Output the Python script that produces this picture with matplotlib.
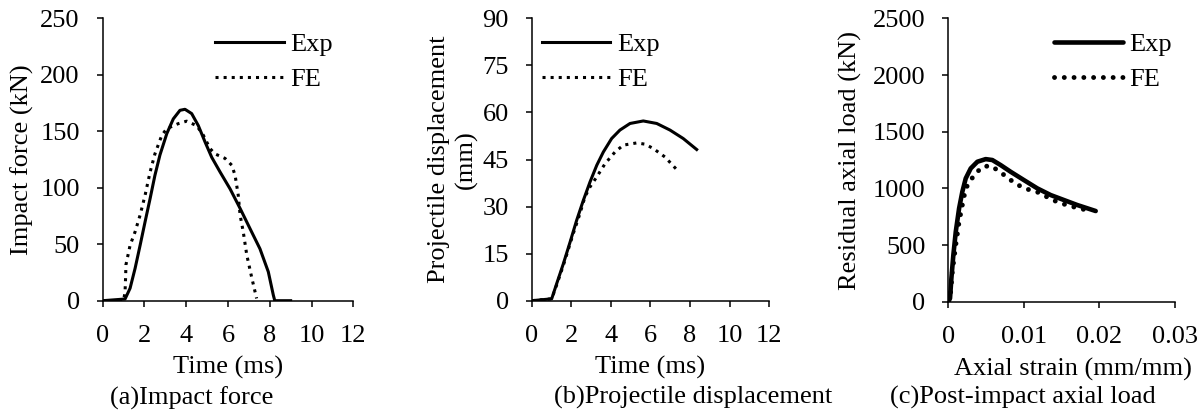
import matplotlib
matplotlib.use('Agg')
import matplotlib.pyplot as plt

plt.rcParams['font.family'] = ['Liberation Serif', 'DejaVu Serif']
plt.rcParams['font.size'] = 19

# (a) impact force
t_exp_a = [0, 1.07, 1.31, 1.55, 1.79, 2.03, 2.27, 2.5, 2.74, 3.07, 3.38, 3.70, 3.94, 4.26,
           4.58, 4.9, 5.22, 5.62, 6.1, 6.58, 7.05, 7.53, 7.93, 8.17, 8.24, 9.0]
f_exp_a = [0, 1.5, 11, 28.6, 49, 70, 90.5, 111, 129, 148, 161, 168.6, 169.5, 165.7,
           155, 140.6, 127, 114, 99, 81.7, 64, 46, 25.6, 5, 0, 0]
t_fe_a = [0, 1.0, 1.07, 1.1, 1.11, 1.31, 1.55, 1.79, 2.03, 2.27, 2.5, 2.83, 3.07, 3.62,
          4.02, 4.5, 4.82, 5.14, 5.38, 5.86, 6.18, 6.34, 6.49, 6.58, 6.73, 6.9, 7.13, 7.37]
f_fe_a = [0, 0, 8, 22.7, 31.6, 49, 61, 75.8, 93.5, 114, 130, 146.5, 152.4, 156.8,
          159, 155, 146.5, 134.7, 130, 126, 120, 111, 93.5, 75.8, 61, 40.4, 21, 2]

# (b) projectile displacement
t_exp_b = [0, 1.01, 1.26, 1.6, 1.94, 2.27, 2.61, 2.95, 3.29, 3.62, 4.04, 4.46, 4.97, 5.64,
           6.32, 6.99, 7.66, 8.34]
d_exp_b = [0, 0.6, 5.4, 11.8, 18.7, 25.6, 32, 37.9, 43.2, 47.4, 51.7, 54.4, 56.5, 57.3,
           56.5, 54.4, 51.7, 48.2]
t_fe_b = [0, 1.01, 1.26, 1.6, 2.1, 2.44, 2.69, 2.95, 3.29, 3.71, 4.21, 4.63, 5.31, 5.73,
          6.15, 6.74, 7.33]
d_fe_b = [0, 0.6, 5.0, 11.3, 21.4, 27.8, 33.1, 36.3, 39.5, 43.7, 47.4, 49.6, 50.3, 49.9,
          48.5, 45.8, 41.8]

# (c) post-impact axial load
e_exp_c = [0, 0.00022, 0.0004, 0.00066, 0.00098, 0.00142, 0.00185, 0.0023, 0.00296, 0.00384,
           0.00494, 0.00582, 0.00693, 0.00825, 0.01, 0.01177, 0.01354, 0.0153, 0.01706, 0.0195]
p_exp_c = [0, 30, 206, 412, 617, 823, 970, 1088, 1176, 1235,
           1258, 1250, 1205, 1146, 1073, 1000, 941, 897, 853, 800]
e_fe_c = [0, 0.00031, 0.00053, 0.00098, 0.00142, 0.00185, 0.0023, 0.0034, 0.0045, 0.0056,
          0.00684, 0.00794, 0.00905, 0.01037, 0.0117, 0.013, 0.01434, 0.01566, 0.01698, 0.0182]
p_fe_c = [0, 88, 265, 500, 705, 853, 1000, 1117, 1190, 1200,
          1146, 1088, 1035, 994, 970, 926, 882, 853, 829, 810]

fig = plt.figure(figsize=(12, 4.17), dpi=100)
ax1 = fig.add_axes([0.0856, 0.2789, 0.2088, 0.677])
ax2 = fig.add_axes([0.4431, 0.2789, 0.1978, 0.677])
ax3 = fig.add_axes([0.7903, 0.2765, 0.1889, 0.6795])

leg_kw = dict(loc='upper left', frameon=False, borderpad=0, handlelength=2.6,
              handletextpad=0.25, labelspacing=0.43)

ax1.plot(t_exp_a, f_exp_a, color='black', lw=2.2, label='Exp')
ax1.plot(t_fe_a, f_fe_a, color='black', lw=2.2, ls=':', label='FE')
ax1.set_xlim(0, 12)
ax1.set_ylim(0, 250)
ax1.set_xticks(range(0, 13, 2))
ax1.set_yticks(range(0, 251, 50))
ax1.set_xlabel('Time (ms)', va='center')
ax1.set_ylabel('Impact force (kN)', va='center')
ax1.xaxis.set_label_coords(0.5, -0.238)
ax1.yaxis.set_label_coords(-0.322, 0.5)
ax1.legend(bbox_to_anchor=(0.396, 0.996), **leg_kw)

ax2.plot(t_exp_b, d_exp_b, color='black', lw=2.2, label='Exp')
ax2.plot(t_fe_b, d_fe_b, color='black', lw=2.2, ls=':', label='FE')
ax2.set_xlim(0, 12)
ax2.set_ylim(0, 90)
ax2.set_xticks(range(0, 13, 2))
ax2.set_yticks(range(0, 91, 15))
ax2.set_xlabel('Time (ms)', va='center')
ax2.set_ylabel('Projectile displacement\n(mm)', va='center', linespacing=1.25)
ax2.xaxis.set_label_coords(0.5, -0.238)
ax2.yaxis.set_label_coords(-0.332, 0.5)
ax2.legend(bbox_to_anchor=(-0.013, 0.996), **leg_kw)

ax3.plot(e_exp_c, p_exp_c, color='black', lw=3.3, label='Exp', solid_capstyle='round')
ax3.plot(e_fe_c, p_fe_c, color='black', lw=3.5, ls=(0, (0.01, 2)),
         dash_capstyle='round', label='FE')
ax3.set_xlim(0, 0.03)
ax3.set_ylim(0, 2500)
ax3.set_xticks([0, 0.01, 0.02, 0.03])
ax3.set_xticklabels(['0', '0.01', '0.02', '0.03'])
ax3.set_yticks(range(0, 2501, 500))
ax3.set_xlabel('Axial strain (mm/mm)', va='center')
ax3.set_ylabel('Residual axial load (kN)', va='center')
ax3.xaxis.set_label_coords(0.548, -0.238)
ax3.yaxis.set_label_coords(-0.434, 0.5)
ax3.legend(bbox_to_anchor=(0.409, 0.996), **leg_kw)

for ax in (ax1, ax2, ax3):
    ax.spines['top'].set_visible(False)
    ax.spines['right'].set_visible(False)
    ax.spines['left'].set_linewidth(1.1)
    ax.spines['bottom'].set_linewidth(1.1)
    ax.tick_params(axis='both', direction='out', length=4.5, width=1.1)
    ax.tick_params(axis='x', pad=13)
    ax.tick_params(axis='y', pad=12)

fig.text(0.160, 0.046, '(a)Impact force', ha='center', va='center')
fig.text(0.578, 0.046, '(b)Projectile displacement', ha='center', va='center')
fig.text(0.8525, 0.046, '(c)Post-impact axial load', ha='center', va='center')

fig.savefig('out.png', dpi=100)
